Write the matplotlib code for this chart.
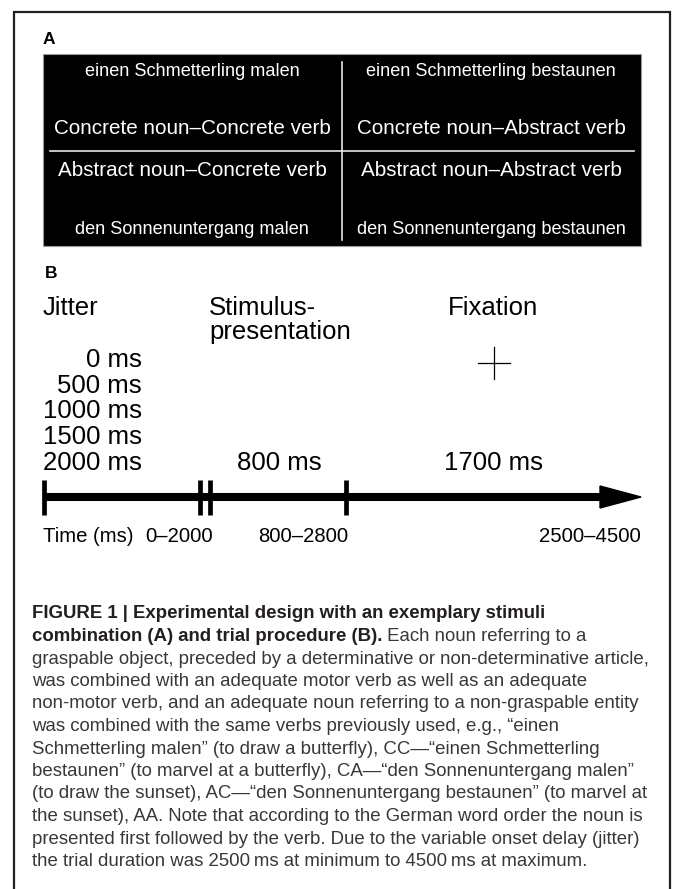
import numpy as np
import matplotlib
matplotlib.use('Agg')
import matplotlib.pyplot as plt
from matplotlib.patches import Rectangle, Polygon

plt.rcParams['font.family'] = ['Liberation Sans', 'DejaVu Sans']

# panel A: the 2x2 stimulus design
phrases = [['einen Schmetterling malen', 'einen Schmetterling bestaunen'],
           ['den Sonnenuntergang malen', 'den Sonnenuntergang bestaunen']]
conditions = [['Concrete noun\u2013Concrete verb', 'Concrete noun\u2013Abstract verb'],
              ['Abstract noun\u2013Concrete verb', 'Abstract noun\u2013Abstract verb']]

# panel B: trial procedure
phases = ['Jitter', 'Stimulus-\npresentation', 'Fixation']
jitter_values = [0, 500, 1000, 1500, 2000]
durations = ['800 ms', '1700 ms']
time_ranges = ['0\u20132000', '800\u20132800', '2500\u20134500']

caption_bold = ['FIGURE 1 | Experimental design with an exemplary stimuli',
                'combination (A) and trial procedure (B).']
caption_lines = [
    ' Each noun referring to a',
    'graspable object, preceded by a determinative or non-determinative article,',
    'was combined with an adequate motor verb as well as an adequate',
    'non-motor verb, and an adequate noun referring to a non-graspable entity',
    'was combined with the same verbs previously used, e.g., \u201ceinen',
    'Schmetterling malen\u201d (to draw a butterfly), CC\u2014\u201ceinen Schmetterling',
    'bestaunen\u201d (to marvel at a butterfly), CA\u2014\u201cden Sonnenuntergang malen\u201d',
    '(to draw the sunset), AC\u2014\u201cden Sonnenuntergang bestaunen\u201d (to marvel at',
    'the sunset), AA. Note that according to the German word order the noun is',
    'presented first followed by the verb. Due to the variable onset delay (jitter)',
    'the trial duration was 2500\u2009ms at minimum to 4500\u2009ms at maximum.',
]

W, H = 673, 889
fig = plt.figure(figsize=(W / 100, H / 100), dpi=100)
ax = fig.add_axes([0, 0, 1, 1])
ax.set_xlim(0, W)
ax.set_ylim(H, 0)
ax.axis('off')

# outer frame (open at the bottom)
ax.plot([14, 14, 670, 670], [H, 12, 12, H], color='#231f20', lw=1.6,
        solid_joinstyle='miter')

# ---- panel A ----
ax.text(43, 40, 'A', fontsize=12.5, fontweight='bold', va='center', ha='left')
box = Rectangle((43, 54), 598, 192, facecolor='black', edgecolor='#9a9a9a', lw=0.8)
ax.add_patch(box)
ax.plot([342, 342], [62, 240], color='#e6e6e6', lw=1.2)
ax.plot([50, 634], [151, 151], color='#e6e6e6', lw=1.2)

col_x = [192, 491]
phrase_y = [71, 230]
cond_y = [128, 171]
for r in range(2):
    for c in range(2):
        ax.text(col_x[c], phrase_y[r], phrases[r][c], color='white', fontsize=13.1,
                ha='center', va='center')
        ax.text(col_x[c], cond_y[r], conditions[r][c], color='white', fontsize=14.9,
                ha='center', va='center')

# ---- panel B ----
ax.text(45, 273, 'B', fontsize=12.5, fontweight='bold', va='center', ha='left')
big = 18.5
phase_x = [43, 209, 448]
for name, x in zip(phases, phase_x):
    ax.text(x, 296, name, fontsize=big, ha='left', va='top', linespacing=0.98)

jy = 360
for v in jitter_values:
    ax.text(142, jy, f'{v} ms', fontsize=big, ha='right', va='center')
    jy += 25.7

ax.text(279, 463, durations[0], fontsize=big, ha='center', va='center')
ax.text(494, 463, durations[1], fontsize=big, ha='center', va='center')

# fixation cross
ax.plot([478, 510], [363, 363], color='black', lw=0.9)
ax.plot([494, 494], [347, 379], color='black', lw=0.9)

# time axis
line_y = 497
ax.plot([43, 605], [line_y, line_y], color='black', lw=5.8, solid_capstyle='butt')
ax.add_patch(Polygon([[600, line_y - 11], [641, line_y], [600, line_y + 11]],
                     closed=True, color='black'))
for tx in [44, 200, 210, 346]:
    ax.plot([tx, tx], [480, 515], color='black', lw=3.4, solid_capstyle='butt')

small = 14.6
ax.text(43, 537, 'Time (ms)', fontsize=small, ha='left', va='center')
ax.text(145, 537, time_ranges[0], fontsize=small, ha='left', va='center')
ax.text(348, 537, time_ranges[1], fontsize=small, ha='right', va='center')
ax.text(641, 537, time_ranges[2], fontsize=small, ha='right', va='center')

# ---- caption ----
cap = 13.4
cy0, dy = 614, 22.5
ax.text(32, cy0, caption_bold[0], fontsize=cap, fontweight='bold', color='#231f20',
        ha='left', va='center')
t_bold = ax.text(32, cy0 + dy, caption_bold[1], fontsize=cap, fontweight='bold',
                 color='#231f20', ha='left', va='center')
fig.canvas.draw()
bb = t_bold.get_window_extent()
x_end = ax.transData.inverted().transform((bb.x1, bb.y0))[0]
ax.text(x_end, cy0 + dy, caption_lines[0], fontsize=cap, color='#383838',
        ha='left', va='center')
for i, line in enumerate(caption_lines[1:]):
    ax.text(32, cy0 + dy * (i + 2), line, fontsize=cap, color='#383838',
            ha='left', va='center')

fig.savefig('out.png', dpi=100)
